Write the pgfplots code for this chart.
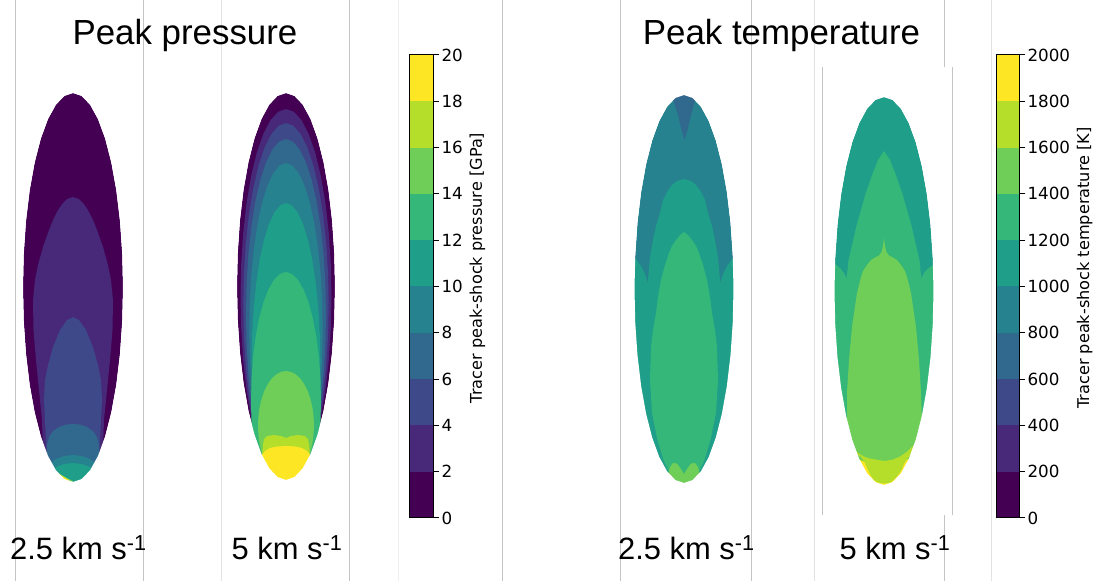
\documentclass[border=0pt]{standalone}
\usepackage{pgfplots}
\pgfplotsset{compat=1.18}
\usepackage{pgfplotstable}
\usepackage{fontspec}
\setmainfont{DejaVu Sans}
\newfontfamily\arialf{Liberation Sans}
\definecolor{v0}{HTML}{440154}
\definecolor{v1}{HTML}{482878}
\definecolor{v2}{HTML}{3E4989}
\definecolor{v3}{HTML}{31688E}
\definecolor{v4}{HTML}{26828E}
\definecolor{v5}{HTML}{1F9E89}
\definecolor{v6}{HTML}{35B779}
\definecolor{v7}{HTML}{6ECE58}
\definecolor{v8}{HTML}{B5DE2B}
\definecolor{v9}{HTML}{FDE725}
\definecolor{lnA}{HTML}{C4C4C4}
\definecolor{lnB}{HTML}{E2E2E2}

% unit ellipse outline (starting at the bottom point)
\pgfplotstableread{
u v
0 1
-0.1736 0.9848
-0.3420 0.9397
-0.5 0.8660
-0.6428 0.7660
-0.7660 0.6428
-0.8660 0.5
-0.9397 0.3420
-0.9848 0.1736
-1 0
-0.9848 -0.1736
-0.9397 -0.3420
-0.8660 -0.5
-0.7660 -0.6428
-0.6428 -0.7660
-0.5 -0.8660
-0.3420 -0.9397
-0.1736 -0.9848
0 -1
0.1736 -0.9848
0.3420 -0.9397
0.5 -0.8660
0.6428 -0.7660
0.7660 -0.6428
0.8660 -0.5
0.9397 -0.3420
0.9848 -0.1736
1 0
0.9848 0.1736
0.9397 0.3420
0.8660 0.5
0.7660 0.6428
0.6428 0.7660
0.5 0.8660
0.3420 0.9397
0.1736 0.9848
0 1
}\unitell
% white mask: frame with the ellipse cut out
\pgfplotstableread{
u v
0 1
-0.1736 0.9848
-0.3420 0.9397
-0.5 0.8660
-0.6428 0.7660
-0.7660 0.6428
-0.8660 0.5
-0.9397 0.3420
-0.9848 0.1736
-1 0
-0.9848 -0.1736
-0.9397 -0.3420
-0.8660 -0.5
-0.7660 -0.6428
-0.6428 -0.7660
-0.5 -0.8660
-0.3420 -0.9397
-0.1736 -0.9848
0 -1
0.1736 -0.9848
0.3420 -0.9397
0.5 -0.8660
0.6428 -0.7660
0.7660 -0.6428
0.8660 -0.5
0.9397 -0.3420
0.9848 -0.1736
1 0
0.9848 0.1736
0.9397 0.3420
0.8660 0.5
0.7660 0.6428
0.6428 0.7660
0.5 0.8660
0.3420 0.9397
0.1736 0.9848
0 1
0 1.3
1.25 1.3
1.25 -1.08
-1.25 -1.08
-1.25 1.3
0 1.3
}\unitmask

\begin{document}
\begin{tikzpicture}
\useasboundingbox (0,0) rectangle (1100bp,581bp);
\begin{axis}[at={(0,0)}, anchor=south west, scale only axis,
  width=1100bp, height=581bp, xmin=0, xmax=1100, ymin=0, ymax=581,
  y dir=reverse, hide axis, clip=false]
% ---------------- Panel 1: peak pressure, 2.5 km/s ----------------
\addplot[fill=v0,draw=none] table[x expr={73+50*\thisrow{u}}, y expr={287.5+194.5*\thisrow{v}}] {\unitell};
\addplot[fill=v1,draw=none] coordinates {(73,197)(79,199)(83,203)(88,210)(93,220)(97,230)(103,247)(108,265)(111,280)(113,300)(112.5,330)(110,360)(107,390)(104,420)(103,450)(103,500)(43,500)(43,450)(42,420)(39,390)(36,360)(33.5,330)(33,300)(35,280)(38,265)(43,247)(49,230)(53,220)(58,210)(63,203)(67,199)};
\addplot[fill=v2,draw=none] coordinates {(73,317)(79,320)(86,330)(93,347)(98,365)(101,380)(102,400)(101,420)(100,440)(99,460)(99,500)(47,500)(47,460)(46,440)(45,420)(44,400)(45,380)(48,365)(53,347)(60,330)(67,320)};
\addplot[fill=v3,draw=none] coordinates {(73,424)(80,424.5)(87,427)(93,431)(97,437)(99,445)(100,500)(46,500)(47,445)(49,437)(53,431)(59,427)(66,424.5)};
\addplot[fill=v4,draw=none] coordinates {(73,455)(82,456)(90,459)(96,464)(100,472)(100,500)(46,500)(46,472)(50,464)(56,459)(64,456)};
\addplot[fill=v5,draw=none] coordinates {(73,463)(82,464)(90,467)(96,472)(100,500)(46,500)(50,472)(56,467)(64,464)};
\addplot[fill=v7,draw=none] coordinates {(54,470)(60,474)(67,478)(73,481)(73,500)(48,500)};
\addplot[fill=v9,draw=none] coordinates {(57,473)(63,476.5)(69,480)(68,490)(52,480)};
\addplot[fill=v8,draw=none] coordinates {(82,479)(88,475)(93,471)(98,490)(80,490)};
\addplot[fill=white,draw=none,even odd rule] table[x expr={73+50*\thisrow{u}}, y expr={287.5+194.5*\thisrow{v}}] {\unitmask};
% ---------------- Panel 2: peak pressure, 5 km/s ----------------
\addplot[fill=v0,draw=none] table[x expr={286+49*\thisrow{u}}, y expr={286.5+193.5*\thisrow{v}}] {\unitell};
\addplot[fill=v1,draw=none] table[x expr={286+45.5*\thisrow{u}}, y expr={296.5+187.5*\thisrow{v}}] {\unitell};
\addplot[fill=v2,draw=none] table[x expr={286+42.7*\thisrow{u}}, y expr={305+182*\thisrow{v}}] {\unitell};
\addplot[fill=v3,draw=none] table[x expr={286+40*\thisrow{u}}, y expr={314.5+175.5*\thisrow{v}}] {\unitell};
\addplot[fill=v4,draw=none] table[x expr={286+36.7*\thisrow{u}}, y expr={329+166*\thisrow{v}}] {\unitell};
\addplot[fill=v5,draw=none] table[x expr={286+34.3*\thisrow{u}}, y expr={361.5+158.5*\thisrow{v}}] {\unitell};
\addplot[fill=v6,draw=none] table[x expr={286+35*\thisrow{u}}, y expr={401+129*\thisrow{v}}] {\unitell};
\addplot[fill=v7,draw=none] table[x expr={286+28*\thisrow{u}}, y expr={425.5+54.5*\thisrow{v}}] {\unitell};
\addplot[fill=v8,draw=none] coordinates {(263,445)(264,439)(267,436)(274,435)(281,436)(286,438)(291,436)(298,435)(305,436)(308,439)(309,445)(310,455)(262,455)};
\addplot[fill=v9,draw=none] coordinates {(286,446)(295,446.5)(302,448)(307,451)(310,455)(312,462)(312,500)(260,500)(260,462)(262,455)(265,451)(270,448)(277,446.5)};
\addplot[fill=white,draw=none,even odd rule] table[x expr={286+49*\thisrow{u}}, y expr={286.5+193.5*\thisrow{v}}] {\unitmask};
% ---------------- Panel 3: peak temperature, 2.5 km/s ----------------
\addplot[fill=v4,draw=none] table[x expr={684+49.5*\thisrow{u}}, y expr={289+194*\thisrow{v}}] {\unitell};
\addplot[fill=v3,draw=none] coordinates {(670,90)(698,90)(691,115)(687.5,130)(684.5,140)(681.5,130)(678,115)};
\addplot[fill=v5,draw=none] coordinates {(684,179)(691,181)(696,185)(701,192)(705,200)(708,213)(712,226)(715,240)(718,257)(720.3,283)(723,274)(727,266)(732,259)(741,252)(742,252)(742,500)(626,500)(626,252)(627,252)(636,259)(641,266)(645,274)(647.7,283)(650,257)(653,240)(656,226)(660,213)(663,200)(667,192)(672,185)(677,181)};
\addplot[fill=v6,draw=none] coordinates {(684,232)(688,235)(692,240)(696,246)(699,253)(703,265)(707,280)(710,297)(712,313)(715,330)(717,347)(718,380)(716,413)(710.5,440)(704.5,460)(700,470)(694,478)(684,484)(674,478)(668,470)(663.5,460)(657.5,440)(652,413)(650,380)(651,347)(653,330)(656,313)(658,297)(661,280)(665,265)(669,253)(672,246)(676,240)(680,235)};
\addplot[fill=v7,draw=none] coordinates {(670,467)(673,463)(677,463.5)(681,469)(684,474)(687,469)(691,463.5)(695,463)(698,467)(700,474)(700,500)(668,500)(668,474)};
\addplot[fill=white,draw=none,even odd rule] table[x expr={684+49.5*\thisrow{u}}, y expr={289+194*\thisrow{v}}] {\unitmask};
% ---------------- Panel 4: peak temperature, 5 km/s ----------------
\addplot[fill=v5,draw=none] table[x expr={884+49.5*\thisrow{u}}, y expr={291+194*\thisrow{v}}] {\unitell};
\addplot[fill=v6,draw=none] coordinates {(884,151)(890,160)(896.5,176.7)(902.3,193.3)(907,210)(911.8,226.7)(915.5,243)(919.5,260)(921.3,278.3)(924,273)(928,268.5)(933.3,265)(940,262)(940,500)(828,500)(828,262)(834.5,263.5)(840,268)(844,273)(846.7,278.3)(848.5,260)(852.5,243)(856.2,226.7)(861,210)(865.7,193.3)(871.5,176.7)(878,160)};
\addplot[fill=v7,draw=none] coordinates {(884,238)(885,246)(886.5,252)(889,255.5)(893,257.5)(897,260)(901,265)(905,271)(907,277)(911,293)(916,327)(919,360)(921,393)(922,420)(922,500)(846,500)(847,420)(847,393)(849,360)(852,327)(857,293)(861,277)(863,271)(867,265)(871,260)(875,257.5)(879,255.5)(881.5,252)(883,246)};
\addplot[fill=v9,draw=none] coordinates {(840,459)(860,460)(870,464)(898,464)(908,459)(930,456)(933,500)(835,500)};
\addplot[fill=v8,draw=none] coordinates {(846,440)(852,447)(858,453)(864,456.5)(870,458.5)(878,460)(885,461)(893,459.5)(900,456.5)(906,452.5)(912,447)(922,438)(915,452)(907.7,458)(904,464)(901.6,470)(898,475)(895.7,478)(889.6,483)(884,483.5)(878,482.5)(874,480)(871,476)(867.5,469)(864.5,462)(861,457)(850,449)};
\addplot[fill=white,draw=none,even odd rule] table[x expr={884+49.5*\thisrow{u}}, y expr={291+194*\thisrow{v}}] {\unitmask};
\end{axis}

% ---------------- Colorbar: pressure ----------------
\begin{axis}[at={(409bp,63bp)}, anchor=south west, scale only axis,
  width=24bp, height=463bp, xmin=0, xmax=1, ymin=0, ymax=20,
  xtick=\empty, ytick={0,2,...,20}, ytick pos=right, yticklabel pos=right,
  tick align=outside, major tick length=6bp,
  axis line style={line width=1bp}, tick style={line width=1bp, black},
  ylabel={Tracer peak-shock pressure [GPa]}, ylabel near ticks,
  ylabel style={at={(ticklabel cs:0.54)}, font=\fontsize{16.2}{18}\selectfont},
  yticklabel style={font=\fontsize{16.8}{19}\selectfont, xshift=-1bp},
  /pgf/number format/assume math mode=true, axis on top]
\addplot[fill=v0,draw=none] coordinates {(0,0)(1,0)(1,2)(0,2)};
\addplot[fill=v1,draw=none] coordinates {(0,2)(1,2)(1,4)(0,4)};
\addplot[fill=v2,draw=none] coordinates {(0,4)(1,4)(1,6)(0,6)};
\addplot[fill=v3,draw=none] coordinates {(0,6)(1,6)(1,8)(0,8)};
\addplot[fill=v4,draw=none] coordinates {(0,8)(1,8)(1,10)(0,10)};
\addplot[fill=v5,draw=none] coordinates {(0,10)(1,10)(1,12)(0,12)};
\addplot[fill=v6,draw=none] coordinates {(0,12)(1,12)(1,14)(0,14)};
\addplot[fill=v7,draw=none] coordinates {(0,14)(1,14)(1,16)(0,16)};
\addplot[fill=v8,draw=none] coordinates {(0,16)(1,16)(1,18)(0,18)};
\addplot[fill=v9,draw=none] coordinates {(0,18)(1,18)(1,20)(0,20)};
\end{axis}

% ---------------- Colorbar: temperature ----------------
\begin{axis}[at={(996bp,63bp)}, anchor=south west, scale only axis,
  width=23bp, height=463bp, xmin=0, xmax=1, ymin=0, ymax=2000,
  xtick=\empty, ytick={0,200,...,2000}, ytick pos=right, yticklabel pos=right,
  tick align=outside, major tick length=6bp, scaled y ticks=false,
  axis line style={line width=1bp}, tick style={line width=1bp, black},
  ylabel={Tracer peak-shock temperature [K]}, ylabel near ticks,
  ylabel style={at={(ticklabel cs:0.54)}, font=\fontsize{16.2}{18}\selectfont},
  yticklabel style={font=\fontsize{16.8}{19}\selectfont, xshift=-1bp},
  /pgf/number format/1000 sep={},
  /pgf/number format/assume math mode=true, axis on top]
\addplot[fill=v0,draw=none] coordinates {(0,0)(1,0)(1,200)(0,200)};
\addplot[fill=v1,draw=none] coordinates {(0,200)(1,200)(1,400)(0,400)};
\addplot[fill=v2,draw=none] coordinates {(0,400)(1,400)(1,600)(0,600)};
\addplot[fill=v3,draw=none] coordinates {(0,600)(1,600)(1,800)(0,800)};
\addplot[fill=v4,draw=none] coordinates {(0,800)(1,800)(1,1000)(0,1000)};
\addplot[fill=v5,draw=none] coordinates {(0,1000)(1,1000)(1,1200)(0,1200)};
\addplot[fill=v6,draw=none] coordinates {(0,1200)(1,1200)(1,1400)(0,1400)};
\addplot[fill=v7,draw=none] coordinates {(0,1400)(1,1400)(1,1600)(0,1600)};
\addplot[fill=v8,draw=none] coordinates {(0,1600)(1,1600)(1,1800)(0,1800)};
\addplot[fill=v9,draw=none] coordinates {(0,1800)(1,1800)(1,2000)(0,2000)};
\end{axis}

% ---------------- panel borders (composite figure) ----------------
\begin{scope}[line width=1bp]
\draw[lnA] (15bp,0) -- (15bp,581bp);
\draw[lnA] (143bp,0) -- (143bp,581bp);
\draw[lnB] (221bp,0) -- (221bp,581bp);
\draw[lnA] (349bp,0) -- (349bp,581bp);
\draw[lnB!60] (398bp,0) -- (398bp,581bp);
\draw[lnA] (502bp,0) -- (502bp,581bp);
\draw[lnA] (620bp,0) -- (620bp,581bp);
\draw[lnA] (751bp,0) -- (751bp,581bp);
\draw[lnB] (814bp,0) -- (814bp,581bp);
\draw[lnA] (822bp,66bp) -- (822bp,514bp);
\draw[lnA] (952bp,66bp) -- (952bp,514bp);
\draw[lnA] (944bp,514bp) -- (944bp,581bp);
\draw[lnA] (944bp,0) -- (944bp,66bp);
\draw[lnB] (991bp,0) -- (991bp,581bp);
\end{scope}

% ---------------- titles and labels ----------------
\node[anchor=base, inner sep=0, font=\arialf\fontsize{35}{40}\selectfont] at (185bp,536bp) {Peak pressure};
\node[anchor=base, inner sep=0, font=\arialf\fontsize{35}{40}\selectfont] at (781.5bp,536bp) {Peak temperature};
\node[anchor=base west, inner sep=0, font=\arialf\fontsize{31}{36}\selectfont] at (10bp,22bp) {2.5 km s\textsuperscript{-1}};
\node[anchor=base west, inner sep=0, font=\arialf\fontsize{31}{36}\selectfont] at (231.5bp,22bp) {5 km s\textsuperscript{-1}};
\node[anchor=base west, inner sep=0, font=\arialf\fontsize{31}{36}\selectfont] at (618bp,22bp) {2.5 km s\textsuperscript{-1}};
\node[anchor=base west, inner sep=0, font=\arialf\fontsize{31}{36}\selectfont] at (839.5bp,22bp) {5 km s\textsuperscript{-1}};
\end{tikzpicture}
\end{document}
